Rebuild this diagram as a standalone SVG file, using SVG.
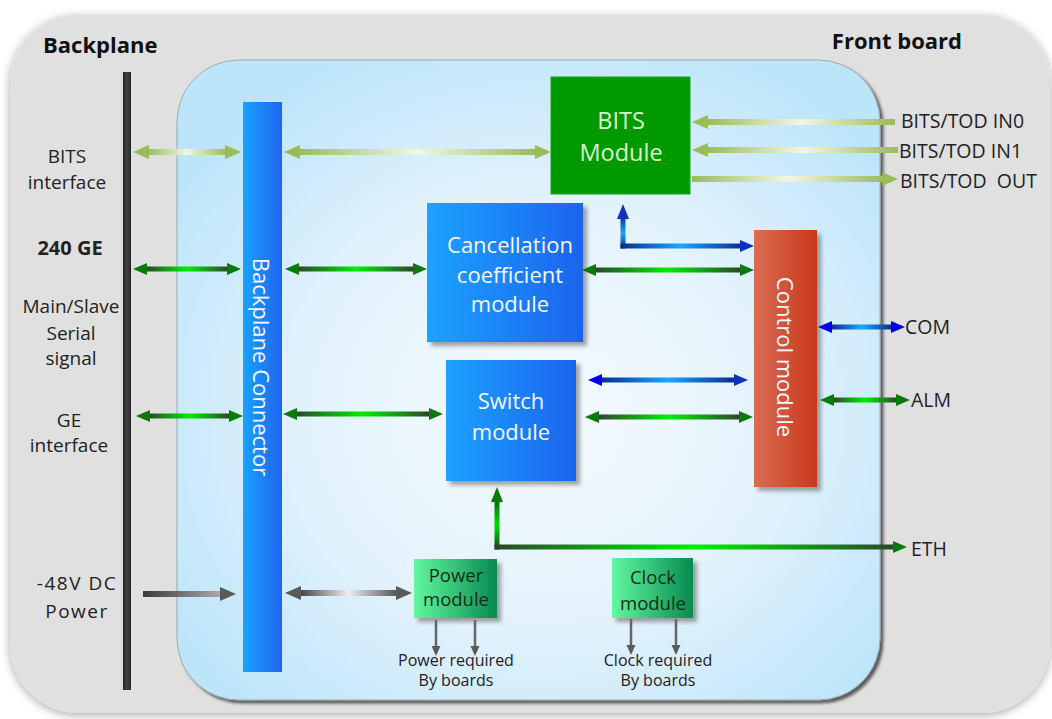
<svg xmlns="http://www.w3.org/2000/svg" width="1052" height="719" viewBox="0 0 1052 719">
<defs>
<filter id="outerSh" x="-5%" y="-5%" width="110%" height="110%"><feDropShadow dx="0" dy="2" stdDeviation="5" flood-color="#000" flood-opacity="0.35"/></filter>
<filter id="innerSh" x="-5%" y="-5%" width="110%" height="110%"><feDropShadow dx="3" dy="3" stdDeviation="1.5" flood-color="#000" flood-opacity="0.6"/></filter>
<filter id="boxSh" x="-10%" y="-10%" width="130%" height="130%"><feDropShadow dx="4" dy="4" stdDeviation="2" flood-color="#000" flood-opacity="0.35"/></filter>
<radialGradient id="panelG" cx="52%" cy="55%" r="62%"><stop offset="0" stop-color="#f6fbff"/><stop offset="0.55" stop-color="#e2f2fc"/><stop offset="1" stop-color="#bde5fa"/></radialGradient>
<linearGradient id="blueBox" x1="0" y1="0" x2="1" y2="0"><stop offset="0" stop-color="#1aa2ff"/><stop offset="1" stop-color="#1e64ee"/></linearGradient>
<linearGradient id="redBox" x1="0" y1="0" x2="1" y2="0"><stop offset="0" stop-color="#da6c54"/><stop offset="1" stop-color="#c8381a"/></linearGradient>
<linearGradient id="greenBox" x1="0" y1="0" x2="1" y2="0"><stop offset="0" stop-color="#62f8a0"/><stop offset="1" stop-color="#078a50"/></linearGradient>
<linearGradient id="bpBar" x1="0" y1="0" x2="1" y2="0"><stop offset="0" stop-color="#222"/><stop offset="0.5" stop-color="#444"/><stop offset="1" stop-color="#222"/></linearGradient>
<linearGradient id="lgH" x1="0" y1="0" x2="1" y2="0"><stop offset="0" stop-color="#9bbb59"/><stop offset="0.5" stop-color="#f2f6e6"/><stop offset="1" stop-color="#9bbb59"/></linearGradient>
<linearGradient id="ggH" x1="0" y1="0" x2="1" y2="0"><stop offset="0" stop-color="#2b472b"/><stop offset="0.5" stop-color="#00f000"/><stop offset="1" stop-color="#2b472b"/></linearGradient>
<linearGradient id="ggV" x1="0" y1="0" x2="0" y2="1"><stop offset="0" stop-color="#0a6a0a"/><stop offset="0.5" stop-color="#00e000"/><stop offset="1" stop-color="#1f3f1f"/></linearGradient>
<linearGradient id="bgH" x1="0" y1="0" x2="1" y2="0"><stop offset="0" stop-color="#0a2c8c"/><stop offset="0.5" stop-color="#1aa8ff"/><stop offset="1" stop-color="#0a2c8c"/></linearGradient>
<linearGradient id="bgV" x1="0" y1="0" x2="0" y2="1"><stop offset="0" stop-color="#0a3aa0"/><stop offset="0.5" stop-color="#1aa8ff"/><stop offset="1" stop-color="#0a2c8c"/></linearGradient>
<linearGradient id="gyH" x1="0" y1="0" x2="1" y2="0"><stop offset="0" stop-color="#444"/><stop offset="0.5" stop-color="#eeeeee"/><stop offset="1" stop-color="#555"/></linearGradient>
<linearGradient id="gyH1" x1="0" y1="0" x2="1" y2="0"><stop offset="0" stop-color="#3a3a3a"/><stop offset="1" stop-color="#aaaaaa"/></linearGradient>
<style>
.lbl{font-family:"Open Sans","DejaVu Sans",sans-serif;fill:#222;}
.ttl{font-family:"Open Sans","DejaVu Sans",sans-serif;font-weight:bold;fill:#111;font-size:22px;}
.side{font-size:19px;text-anchor:middle;}
.right{font-size:19.5px;}
.mod{font-family:"Open Sans","DejaVu Sans",sans-serif;font-size:22px;text-anchor:middle;fill:#f4f9ff;}
.small{font-family:"Open Sans","DejaVu Sans",sans-serif;font-size:18.5px;text-anchor:middle;fill:#123012;}
.req{font-family:"Open Sans","DejaVu Sans",sans-serif;font-size:16px;text-anchor:middle;fill:#222;}
.hl{fill:#9bbb59;}
.hg{fill:#0a7a0a;}
.hb{fill:#1030c0;}
.hy{fill:#5a5a5a;}
.thin{stroke:#666;stroke-width:2.5;fill:none;}
</style>
</defs>

<g id="frame">
<rect x="10" y="15" width="1040" height="698" rx="68" fill="#e0e0e0" filter="url(#outerSh)"/>
<rect x="177" y="60" width="703" height="640" rx="62" fill="url(#panelG)" stroke="#9aa9b2" stroke-width="1" filter="url(#innerSh)"/>
<rect x="123" y="72" width="8" height="618" fill="url(#bpBar)"/>
<text class="ttl" x="43" y="53">Backplane</text>
<text class="ttl" x="962" y="49" text-anchor="end">Front board</text>
</g>

<g id="left-labels">
<text class="lbl side" x="67" y="163">BITS</text>
<text class="lbl side" x="67" y="189">interface</text>
<text class="lbl side" x="70" y="255" font-weight="bold" style="font-size:20px">240 GE</text>
<text class="lbl side" x="71" y="313">Main/Slave</text>
<text class="lbl side" x="71" y="340">Serial</text>
<text class="lbl side" x="71" y="365">signal</text>
<text class="lbl side" x="69" y="427">GE</text>
<text class="lbl side" x="69" y="452">interface</text>
<text class="lbl side" x="77" y="590" letter-spacing="1.5">-48V DC</text>
<text class="lbl side" x="77" y="618" letter-spacing="1.5">Power</text>
</g>

<g id="right-labels">
<text class="lbl right" x="901" y="128">BITS/TOD IN0</text>
<text class="lbl right" x="899" y="158">BITS/TOD IN1</text>
<text class="lbl right" x="900" y="188" style="white-space:pre">BITS/TOD  OUT</text>
<text class="lbl right" x="905" y="334">COM</text>
<text class="lbl right" x="911" y="407">ALM</text>
<text class="lbl right" x="911" y="556">ETH</text>
</g>

<g id="node-backplane-connector">
<rect x="243" y="102" width="39" height="570" fill="url(#blueBox)"/>
<text class="mod" transform="translate(262,367) rotate(90)" dominant-baseline="central">Backplane Connector</text>
</g>

<g id="node-bits-module">
<rect x="551" y="77" width="139" height="117" fill="#009a00" stroke="#1aa01a" stroke-width="1"/>
<text class="mod" x="621" y="129" style="fill:#dcf5cc;font-size:23.5px">BITS</text>
<text class="mod" x="621" y="161" style="fill:#dcf5cc;font-size:23.5px">Module</text>
</g>

<g id="node-cancellation">
<rect x="427" y="203" width="156" height="139" fill="url(#blueBox)" filter="url(#boxSh)"/>
<text class="mod" x="510" y="253">Cancellation</text>
<text class="mod" x="510" y="283">coefficient</text>
<text class="mod" x="510" y="312">module</text>
</g>

<g id="node-switch">
<rect x="446" y="360" width="130" height="121" fill="url(#blueBox)" filter="url(#boxSh)"/>
<text class="mod" x="511" y="409">Switch</text>
<text class="mod" x="511" y="440">module</text>
</g>

<g id="node-control">
<rect x="754" y="230" width="63" height="257" fill="url(#redBox)" filter="url(#boxSh)"/>
<text class="mod" transform="translate(786,357) rotate(90)" dominant-baseline="central">Control module</text>
</g>

<g id="node-power">
<rect x="414" y="559" width="83" height="59" fill="url(#greenBox)" filter="url(#boxSh)"/>
<text class="small" x="456" y="582">Power</text>
<text class="small" x="456" y="606">module</text>
<text class="req" x="456" y="666">Power required</text>
<text class="req" x="456" y="686">By boards</text>
</g>

<g id="node-clock">
<rect x="612" y="558" width="81" height="60" fill="url(#greenBox)" filter="url(#boxSh)"/>
<text class="small" x="653" y="584">Clock</text>
<text class="small" x="653" y="610">module</text>
<text class="req" x="658" y="666">Clock required</text>
<text class="req" x="658" y="686">By boards</text>
</g>

<g id="connectors">
<g><rect x="148" y="149" width="78" height="6" fill="url(#lgH)"/><polygon class="hl" points="133,152 149,145 149,159"/><polygon class="hl" points="241,152 225,145 225,159"/></g>
<g><rect x="299" y="149" width="237" height="6" fill="url(#lgH)"/><polygon class="hl" points="284,152 300,145 300,159"/><polygon class="hl" points="551,152 535,145 535,159"/></g>
<g><rect x="707" y="119" width="188" height="6" fill="url(#lgH)"/><polygon class="hl" points="692,122 708,115 708,129"/></g>
<g><rect x="707" y="147" width="191" height="6" fill="url(#lgH)"/><polygon class="hl" points="692,150 708,143 708,157"/></g>
<g><rect x="692" y="176" width="192" height="6" fill="url(#lgH)"/><polygon class="hl" points="898,179 882,172 882,186"/></g>
<g><rect x="146" y="266.5" width="82" height="5" fill="url(#ggH)"/><polygon class="hg" points="133,269 147,263 147,275"/><polygon class="hg" points="241,269 227,263 227,275"/></g>
<g><rect x="298" y="266.5" width="116" height="5" fill="url(#ggH)"/><polygon class="hg" points="285,269 299,263 299,275"/><polygon class="hg" points="427,269 413,263 413,275"/></g>
<g><rect x="595" y="267.5" width="146" height="5" fill="url(#ggH)"/><polygon class="hg" points="582,270 596,264 596,276"/><polygon class="hg" points="754,270 740,264 740,276"/></g>
<g><rect x="620.5" y="218" width="5" height="30.5" fill="url(#bgV)"/><rect x="620.5" y="243.5" width="121" height="5" fill="url(#bgH)"/><polygon class="hb" points="623,204 617,219 629,219"/><polygon class="hb" points="754,246 740,240 740,252"/></g>
<g><rect x="601" y="377.5" width="134" height="5" fill="url(#bgH)"/><polygon fill="#0000ee" points="588,380 602,374 602,386"/><polygon class="hb" points="748,380 734,374 734,386"/></g>
<g><rect x="598" y="414.5" width="142" height="5" fill="url(#ggH)"/><polygon class="hg" points="585,417 599,411 599,423"/><polygon class="hg" points="753,417 739,411 739,423"/></g>
<g><rect x="149" y="413.5" width="81" height="5" fill="url(#ggH)"/><polygon class="hg" points="136,416 150,410 150,422"/><polygon class="hg" points="243,416 229,410 229,422"/></g>
<g><rect x="296" y="411.5" width="134" height="5" fill="url(#ggH)"/><polygon class="hg" points="283,414 297,408 297,420"/><polygon class="hg" points="443,414 429,408 429,420"/></g>
<g><rect x="831" y="324.5" width="61" height="5" fill="url(#bgH)"/><polygon fill="#0000ee" points="818,327 832,321 832,333"/><polygon fill="#0000ee" points="905,327 891,321 891,333"/></g>
<g><rect x="833" y="397.5" width="64" height="5" fill="url(#ggH)"/><polygon class="hg" points="820,400 834,394 834,406"/><polygon class="hg" points="910,400 896,394 896,406"/></g>
<g><rect x="494.5" y="501" width="5" height="48.5" fill="url(#ggV)"/><rect x="494.5" y="544.5" width="400" height="5" fill="url(#ggH)"/><polygon class="hg" points="497,487 491,502 503,502"/><polygon class="hg" points="907,547 893,541 893,553"/></g>
<g><rect x="143" y="591" width="78" height="6" fill="url(#gyH1)"/><polygon class="hy" points="236,594 220,587 220,601"/></g>
<g><rect x="300" y="590" width="97" height="6" fill="url(#gyH)"/><polygon class="hy" points="285,593 301,586 301,600"/><polygon class="hy" points="412,593 396,586 396,600"/></g>
<g><line class="thin" x1="436" y1="620" x2="436" y2="648"/><polygon class="hy" points="436,656 431.5,646 440.5,646"/></g>
<g><line class="thin" x1="475" y1="620" x2="475" y2="648"/><polygon class="hy" points="475,656 470.5,646 479.5,646"/></g>
<g><line class="thin" x1="631" y1="619" x2="631" y2="647"/><polygon class="hy" points="631,655 626.5,645 635.5,645"/></g>
<g><line class="thin" x1="676" y1="619" x2="676" y2="647"/><polygon class="hy" points="676,655 671.5,645 680.5,645"/></g>
</g>
</svg>
